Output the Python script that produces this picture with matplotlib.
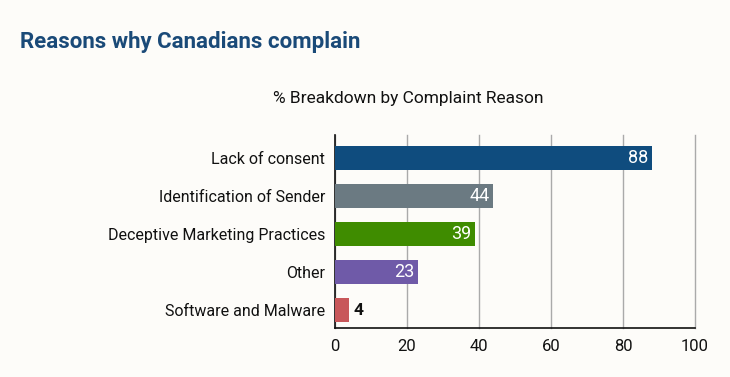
import matplotlib.pyplot as plt

reasons = ["Lack of consent", "Identification of Sender", "Deceptive Marketing Practices",
           "Other", "Software and Malware"]
percent = [88, 44, 39, 23, 4]
bar_colors = ["#0f4c7e", "#6b7a82", "#3f8c00", "#6f5aa8", "#c8575a"]
x_ticks = [0, 20, 40, 60, 80, 100]

bg = "#fdfcf9"
plt.rcParams['font.family'] = ['Roboto', 'DejaVu Sans']

fig = plt.figure(figsize=(7.3, 3.77), dpi=100, facecolor=bg)
ax = fig.add_axes([335 / 730, 1 - 328 / 377, 360 / 730, 193 / 377])
ax.set_facecolor(bg)

y = list(range(len(reasons)))
ax.barh(y, percent, height=0.63, color=bar_colors, zorder=3)

for yi, v in zip(y, percent):
    if v > 10:
        ax.text(v - 1, yi, str(v), ha="right", va="center", color="white",
                fontsize=13, zorder=4)
    else:
        ax.text(v + 1.2, yi, str(v), ha="left", va="center", color="#111111",
                fontsize=12.5, fontweight="bold", zorder=4)

ax.set_xlim(0, 100)
ax.set_ylim(len(reasons) - 0.53, -0.6)
ax.set_yticks(y)
ax.set_yticklabels(reasons, fontsize=11.5, color="#111111")
ax.set_xticks(x_ticks)
ax.set_xticklabels([str(t) for t in x_ticks], fontsize=12, color="#111111")
ax.tick_params(axis="x", length=0, pad=8)
ax.tick_params(axis="y", length=0, pad=7)
for gl in ax.xaxis.get_gridlines():
    gl.set_clip_on(False)
ax.grid(axis="x", color="#aaaaaa", linewidth=1, zorder=0)
for s in ["top", "right"]:
    ax.spines[s].set_visible(False)
for s in ["left", "bottom"]:
    ax.spines[s].set_color("#111111")
    ax.spines[s].set_linewidth(1.2)

fig.text(20 / 730, 1 - 42 / 377, "Reasons why Canadians complain", fontsize=16,
         fontweight="bold", color="#1a4a78", va="center", ha="left")
fig.text(408 / 730, 1 - 99 / 377, "% Breakdown by Complaint Reason", fontsize=12.5,
         color="#111111", va="center", ha="center")

fig.savefig("out.png", dpi=100, facecolor=bg)
